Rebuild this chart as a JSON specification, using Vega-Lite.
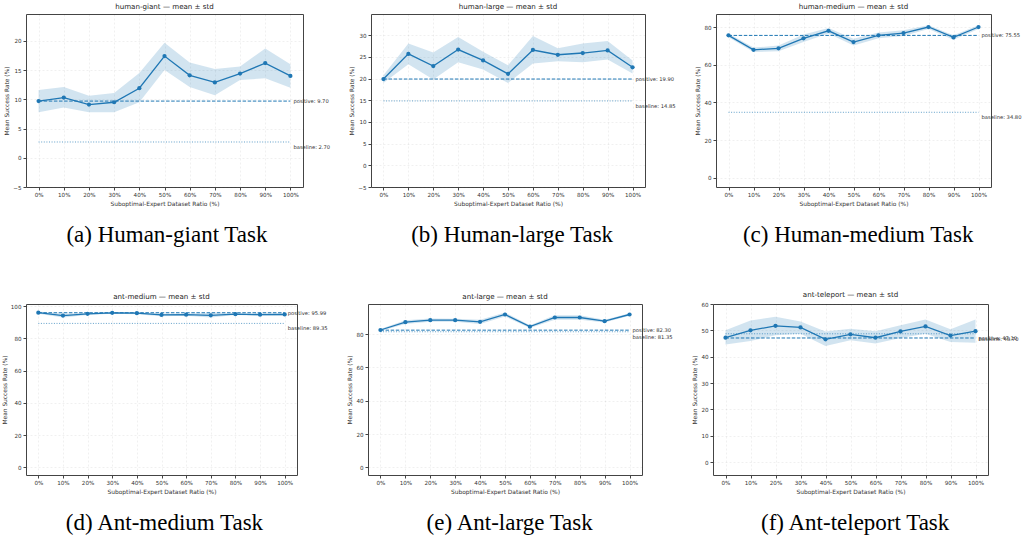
{
  "$schema": "https://vega.github.io/schema/vega-lite/v6.json",
  "padding": {"left": 0, "top": 2, "right": 0, "bottom": 0},
  "background": "white",
  "datasets": {
    "series": [
      {"task": "human-giant", "ratio": 0, "mean": 9.7, "lo": 7.8, "hi": 11.6},
      {"task": "human-giant", "ratio": 10, "mean": 10.3, "lo": 8.6, "hi": 12.1},
      {"task": "human-giant", "ratio": 20, "mean": 9.1, "lo": 7.8, "hi": 10.6},
      {"task": "human-giant", "ratio": 30, "mean": 9.5, "lo": 7.8, "hi": 11.1},
      {"task": "human-giant", "ratio": 40, "mean": 11.9, "lo": 9.5, "hi": 14.5},
      {"task": "human-giant", "ratio": 50, "mean": 17.4, "lo": 15.0, "hi": 19.7},
      {"task": "human-giant", "ratio": 60, "mean": 14.1, "lo": 12.1, "hi": 16.3},
      {"task": "human-giant", "ratio": 70, "mean": 12.9, "lo": 10.7, "hi": 15.2},
      {"task": "human-giant", "ratio": 80, "mean": 14.4, "lo": 13.3, "hi": 15.6},
      {"task": "human-giant", "ratio": 90, "mean": 16.2, "lo": 13.6, "hi": 18.7},
      {"task": "human-giant", "ratio": 100, "mean": 14.0, "lo": 12.0, "hi": 16.0},
      {"task": "human-large", "ratio": 0, "mean": 19.9, "lo": 19.0, "hi": 20.8},
      {"task": "human-large", "ratio": 10, "mean": 25.7, "lo": 23.3, "hi": 28.1},
      {"task": "human-large", "ratio": 20, "mean": 22.9, "lo": 19.8, "hi": 26.0},
      {"task": "human-large", "ratio": 30, "mean": 26.7, "lo": 23.8, "hi": 29.6},
      {"task": "human-large", "ratio": 40, "mean": 24.2, "lo": 22.1, "hi": 26.2},
      {"task": "human-large", "ratio": 50, "mean": 21.1, "lo": 19.0, "hi": 23.1},
      {"task": "human-large", "ratio": 60, "mean": 26.6, "lo": 23.5, "hi": 29.8},
      {"task": "human-large", "ratio": 70, "mean": 25.5, "lo": 24.0, "hi": 27.0},
      {"task": "human-large", "ratio": 80, "mean": 25.9, "lo": 23.8, "hi": 28.1},
      {"task": "human-large", "ratio": 90, "mean": 26.5, "lo": 24.4, "hi": 28.7},
      {"task": "human-large", "ratio": 100, "mean": 22.6, "lo": 21.2, "hi": 24.2},
      {"task": "human-medium", "ratio": 0, "mean": 75.6, "lo": 74.6, "hi": 76.6},
      {"task": "human-medium", "ratio": 10, "mean": 67.9, "lo": 66.7, "hi": 69.1},
      {"task": "human-medium", "ratio": 20, "mean": 68.7, "lo": 67.2, "hi": 70.2},
      {"task": "human-medium", "ratio": 30, "mean": 74.0, "lo": 72.0, "hi": 76.0},
      {"task": "human-medium", "ratio": 40, "mean": 78.0, "lo": 76.5, "hi": 79.5},
      {"task": "human-medium", "ratio": 50, "mean": 72.0, "lo": 70.2, "hi": 73.8},
      {"task": "human-medium", "ratio": 60, "mean": 75.6, "lo": 74.1, "hi": 77.1},
      {"task": "human-medium", "ratio": 70, "mean": 76.8, "lo": 75.3, "hi": 78.3},
      {"task": "human-medium", "ratio": 80, "mean": 80.0, "lo": 79.0, "hi": 81.0},
      {"task": "human-medium", "ratio": 90, "mean": 74.5, "lo": 73.3, "hi": 75.7},
      {"task": "human-medium", "ratio": 100, "mean": 80.0, "lo": 79.0, "hi": 81.0},
      {"task": "ant-medium", "ratio": 0, "mean": 96.0, "lo": 95.3, "hi": 96.7},
      {"task": "ant-medium", "ratio": 10, "mean": 94.2, "lo": 93.0, "hi": 95.4},
      {"task": "ant-medium", "ratio": 20, "mean": 95.3, "lo": 94.6, "hi": 96.0},
      {"task": "ant-medium", "ratio": 30, "mean": 95.9, "lo": 95.3, "hi": 96.5},
      {"task": "ant-medium", "ratio": 40, "mean": 95.7, "lo": 95.0, "hi": 96.4},
      {"task": "ant-medium", "ratio": 50, "mean": 94.6, "lo": 93.8, "hi": 95.4},
      {"task": "ant-medium", "ratio": 60, "mean": 94.8, "lo": 94.1, "hi": 95.5},
      {"task": "ant-medium", "ratio": 70, "mean": 94.4, "lo": 93.0, "hi": 95.8},
      {"task": "ant-medium", "ratio": 80, "mean": 95.1, "lo": 94.5, "hi": 95.7},
      {"task": "ant-medium", "ratio": 90, "mean": 94.8, "lo": 94.1, "hi": 95.5},
      {"task": "ant-medium", "ratio": 100, "mean": 94.9, "lo": 94.2, "hi": 95.6},
      {"task": "ant-large", "ratio": 0, "mean": 82.4, "lo": 81.8, "hi": 83.0},
      {"task": "ant-large", "ratio": 10, "mean": 87.1, "lo": 86.0, "hi": 88.2},
      {"task": "ant-large", "ratio": 20, "mean": 88.3, "lo": 87.3, "hi": 89.3},
      {"task": "ant-large", "ratio": 30, "mean": 88.3, "lo": 87.4, "hi": 89.2},
      {"task": "ant-large", "ratio": 40, "mean": 87.3, "lo": 86.0, "hi": 88.6},
      {"task": "ant-large", "ratio": 50, "mean": 91.7, "lo": 90.5, "hi": 92.9},
      {"task": "ant-large", "ratio": 60, "mean": 84.4, "lo": 83.6, "hi": 85.2},
      {"task": "ant-large", "ratio": 70, "mean": 89.9, "lo": 88.6, "hi": 91.2},
      {"task": "ant-large", "ratio": 80, "mean": 89.9, "lo": 88.5, "hi": 91.3},
      {"task": "ant-large", "ratio": 90, "mean": 87.7, "lo": 86.9, "hi": 88.5},
      {"task": "ant-large", "ratio": 100, "mean": 91.7, "lo": 91.0, "hi": 92.4},
      {"task": "ant-teleport", "ratio": 0, "mean": 47.2, "lo": 44.6, "hi": 50.0},
      {"task": "ant-teleport", "ratio": 10, "mean": 50.0, "lo": 46.0, "hi": 53.7},
      {"task": "ant-teleport", "ratio": 20, "mean": 51.7, "lo": 48.1, "hi": 55.2},
      {"task": "ant-teleport", "ratio": 30, "mean": 51.1, "lo": 48.7, "hi": 53.4},
      {"task": "ant-teleport", "ratio": 40, "mean": 46.6, "lo": 44.1, "hi": 49.6},
      {"task": "ant-teleport", "ratio": 50, "mean": 48.5, "lo": 46.2, "hi": 50.6},
      {"task": "ant-teleport", "ratio": 60, "mean": 47.2, "lo": 45.0, "hi": 49.7},
      {"task": "ant-teleport", "ratio": 70, "mean": 49.6, "lo": 47.1, "hi": 51.9},
      {"task": "ant-teleport", "ratio": 80, "mean": 51.5, "lo": 48.7, "hi": 54.1},
      {"task": "ant-teleport", "ratio": 90, "mean": 48.0, "lo": 45.6, "hi": 50.4},
      {"task": "ant-teleport", "ratio": 100, "mean": 49.7, "lo": 45.3, "hi": 54.1}
    ],
    "refs": [
      {"task": "human-giant", "kind": "positive", "value": 9.70, "label": "positive: 9.70"},
      {"task": "human-giant", "kind": "baseline", "value": 2.70, "label": "baseline: 2.70"},
      {"task": "human-large", "kind": "positive", "value": 19.90, "label": "positive: 19.90"},
      {"task": "human-large", "kind": "baseline", "value": 14.85, "label": "baseline: 14.85"},
      {"task": "human-medium", "kind": "positive", "value": 75.55, "label": "positive: 75.55"},
      {"task": "human-medium", "kind": "baseline", "value": 34.80, "label": "baseline: 34.80"},
      {"task": "ant-medium", "kind": "positive", "value": 95.99, "label": "positive: 95.99"},
      {"task": "ant-medium", "kind": "baseline", "value": 89.35, "label": "baseline: 89.35"},
      {"task": "ant-large", "kind": "positive", "value": 82.30, "label": "positive: 82.30"},
      {"task": "ant-large", "kind": "baseline", "value": 81.35, "label": "baseline: 81.35"},
      {"task": "ant-teleport", "kind": "positive", "value": 47.10, "label": "positive: 47.10"},
      {"task": "ant-teleport", "kind": "baseline", "value": 48.70, "label": "baseline: 48.70"}
    ]
  },
  "spacing": 43,
  "vconcat": [
    {
      "spacing": 17,
      "hconcat": [
        {
          "title": {"text": "(a) Human-giant Task", "orient": "bottom", "anchor": "middle", "font": "Liberation Serif", "fontSize": 23, "color": "#000", "offset": 17},
          "vconcat": [{
            "width": 277, "height": 173,
            "title": "human-giant — mean ± std",
            "layer": [
              {"data": {"name": "series"}, "transform": [{"filter": "datum.task === 'human-giant'"}],
               "mark": {"type": "area", "color": "#1f77b4", "opacity": 0.2},
               "encoding": {
                 "x": {"field": "ratio", "type": "quantitative", "scale": {"domain": [-5, 105], "nice": false, "zero": false}, "axis": {"values": [0,10,20,30,40,50,60,70,80,90,100], "labelExpr": "datum.value + '%'", "title": "Suboptimal-Expert Dataset Ratio (%)"}},
                 "y": {"field": "lo", "type": "quantitative", "scale": {"domain": [-5, 24.6], "nice": false, "zero": false}, "axis": {"values": [-5,0,5,10,15,20], "labelExpr": "replace(datum.label, '-', '−')", "title": "Mean Success Rate (%)"}},
                 "y2": {"field": "hi"}}},
              {"data": {"name": "series"}, "transform": [{"filter": "datum.task === 'human-giant'"}],
               "mark": {"type": "line", "color": "#1f77b4", "strokeWidth": 1.3, "point": {"filled": true, "size": 18, "color": "#1f77b4", "opacity": 1}},
               "encoding": {"x": {"field": "ratio", "type": "quantitative"}, "y": {"field": "mean", "type": "quantitative"}}},
              {"data": {"name": "refs"}, "transform": [{"filter": "datum.task === 'human-giant'"}],
               "mark": {"type": "rule", "color": "#1f77b4", "strokeWidth": 1},
               "encoding": {"x": {"datum": 0}, "x2": {"datum": 100}, "y": {"field": "value", "type": "quantitative"},
                 "strokeDash": {"field": "kind", "type": "nominal", "scale": {"domain": ["positive", "baseline"], "range": [[3.5, 1.6], [1, 1.6]]}, "legend": null},
                 "opacity": {"field": "kind", "type": "nominal", "scale": {"domain": ["positive", "baseline"], "range": [1, 0.7]}, "legend": null}}},
              {"data": {"name": "refs"}, "transform": [{"filter": "datum.task === 'human-giant' && datum.kind === 'positive'"}],
               "mark": {"type": "text", "align": "left", "baseline": "middle", "dx": 3, "fontSize": 5.2, "color": "#333"},
               "encoding": {"x": {"datum": 100}, "y": {"field": "value", "type": "quantitative"}, "text": {"field": "label"}}},
              {"data": {"name": "refs"}, "transform": [{"filter": "datum.task === 'human-giant' && datum.kind === 'baseline'"}],
               "mark": {"type": "text", "align": "left", "baseline": "middle", "dx": 3, "dy": 5, "fontSize": 5.2, "color": "#333"},
               "encoding": {"x": {"datum": 100}, "y": {"field": "value", "type": "quantitative"}, "text": {"field": "label"}}}
            ]
          }]
        },
        {
          "title": {"text": "(b) Human-large Task", "orient": "bottom", "anchor": "middle", "font": "Liberation Serif", "fontSize": 23, "color": "#000", "offset": 17},
          "vconcat": [{
            "width": 274, "height": 173,
            "title": "human-large — mean ± std",
            "layer": [
              {"data": {"name": "series"}, "transform": [{"filter": "datum.task === 'human-large'"}],
               "mark": {"type": "area", "color": "#1f77b4", "opacity": 0.2},
               "encoding": {
                 "x": {"field": "ratio", "type": "quantitative", "scale": {"domain": [-5, 105], "nice": false, "zero": false}, "axis": {"values": [0,10,20,30,40,50,60,70,80,90,100], "labelExpr": "datum.value + '%'", "title": "Suboptimal-Expert Dataset Ratio (%)"}},
                 "y": {"field": "lo", "type": "quantitative", "scale": {"domain": [-5, 34.9], "nice": false, "zero": false}, "axis": {"values": [-5,0,5,10,15,20,25,30], "labelExpr": "replace(datum.label, '-', '−')", "title": "Mean Success Rate (%)"}},
                 "y2": {"field": "hi"}}},
              {"data": {"name": "series"}, "transform": [{"filter": "datum.task === 'human-large'"}],
               "mark": {"type": "line", "color": "#1f77b4", "strokeWidth": 1.3, "point": {"filled": true, "size": 18, "color": "#1f77b4", "opacity": 1}},
               "encoding": {"x": {"field": "ratio", "type": "quantitative"}, "y": {"field": "mean", "type": "quantitative"}}},
              {"data": {"name": "refs"}, "transform": [{"filter": "datum.task === 'human-large'"}],
               "mark": {"type": "rule", "color": "#1f77b4", "strokeWidth": 1},
               "encoding": {"x": {"datum": 0}, "x2": {"datum": 100}, "y": {"field": "value", "type": "quantitative"},
                 "strokeDash": {"field": "kind", "type": "nominal", "scale": {"domain": ["positive", "baseline"], "range": [[3.5, 1.6], [1, 1.6]]}, "legend": null},
                 "opacity": {"field": "kind", "type": "nominal", "scale": {"domain": ["positive", "baseline"], "range": [1, 0.7]}, "legend": null}}},
              {"data": {"name": "refs"}, "transform": [{"filter": "datum.task === 'human-large' && datum.kind === 'positive'"}],
               "mark": {"type": "text", "align": "left", "baseline": "middle", "dx": 3, "fontSize": 5.2, "color": "#333"},
               "encoding": {"x": {"datum": 100}, "y": {"field": "value", "type": "quantitative"}, "text": {"field": "label"}}},
              {"data": {"name": "refs"}, "transform": [{"filter": "datum.task === 'human-large' && datum.kind === 'baseline'"}],
               "mark": {"type": "text", "align": "left", "baseline": "middle", "dx": 3, "dy": 5, "fontSize": 5.2, "color": "#333"},
               "encoding": {"x": {"datum": 100}, "y": {"field": "value", "type": "quantitative"}, "text": {"field": "label"}}}
            ]
          }]
        },
        {
          "title": {"text": "(c) Human-medium Task", "orient": "bottom", "anchor": "middle", "font": "Liberation Serif", "fontSize": 23, "color": "#000", "offset": 17},
          "vconcat": [{
            "width": 275, "height": 173,
            "title": "human-medium — mean ± std",
            "layer": [
              {"data": {"name": "series"}, "transform": [{"filter": "datum.task === 'human-medium'"}],
               "mark": {"type": "area", "color": "#1f77b4", "opacity": 0.2},
               "encoding": {
                 "x": {"field": "ratio", "type": "quantitative", "scale": {"domain": [-5, 105], "nice": false, "zero": false}, "axis": {"values": [0,10,20,30,40,50,60,70,80,90,100], "labelExpr": "datum.value + '%'", "title": "Suboptimal-Expert Dataset Ratio (%)"}},
                 "y": {"field": "lo", "type": "quantitative", "scale": {"domain": [-4.8, 86.9], "nice": false, "zero": false}, "axis": {"values": [0,20,40,60,80], "title": "Mean Success Rate (%)"}},
                 "y2": {"field": "hi"}}},
              {"data": {"name": "series"}, "transform": [{"filter": "datum.task === 'human-medium'"}],
               "mark": {"type": "line", "color": "#1f77b4", "strokeWidth": 1.3, "point": {"filled": true, "size": 18, "color": "#1f77b4", "opacity": 1}},
               "encoding": {"x": {"field": "ratio", "type": "quantitative"}, "y": {"field": "mean", "type": "quantitative"}}},
              {"data": {"name": "refs"}, "transform": [{"filter": "datum.task === 'human-medium'"}],
               "mark": {"type": "rule", "color": "#1f77b4", "strokeWidth": 1},
               "encoding": {"x": {"datum": 0}, "x2": {"datum": 100}, "y": {"field": "value", "type": "quantitative"},
                 "strokeDash": {"field": "kind", "type": "nominal", "scale": {"domain": ["positive", "baseline"], "range": [[3.5, 1.6], [1, 1.6]]}, "legend": null},
                 "opacity": {"field": "kind", "type": "nominal", "scale": {"domain": ["positive", "baseline"], "range": [1, 0.7]}, "legend": null}}},
              {"data": {"name": "refs"}, "transform": [{"filter": "datum.task === 'human-medium' && datum.kind === 'positive'"}],
               "mark": {"type": "text", "align": "left", "baseline": "middle", "dx": 3, "fontSize": 5.2, "color": "#333"},
               "encoding": {"x": {"datum": 100}, "y": {"field": "value", "type": "quantitative"}, "text": {"field": "label"}}},
              {"data": {"name": "refs"}, "transform": [{"filter": "datum.task === 'human-medium' && datum.kind === 'baseline'"}],
               "mark": {"type": "text", "align": "left", "baseline": "middle", "dx": 3, "dy": 5, "fontSize": 5.2, "color": "#333"},
               "encoding": {"x": {"datum": 100}, "y": {"field": "value", "type": "quantitative"}, "text": {"field": "label"}}}
            ]
          }]
        }
      ]
    },
    {
      "spacing": 17,
      "hconcat": [
        {
          "title": {"text": "(d) Ant-medium Task", "orient": "bottom", "anchor": "middle", "font": "Liberation Serif", "fontSize": 23, "color": "#000", "offset": 17},
          "vconcat": [{
            "width": 271, "height": 171,
            "title": "ant-medium — mean ± std",
            "layer": [
              {"data": {"name": "series"}, "transform": [{"filter": "datum.task === 'ant-medium'"}],
               "mark": {"type": "area", "color": "#1f77b4", "opacity": 0.2},
               "encoding": {
                 "x": {"field": "ratio", "type": "quantitative", "scale": {"domain": [-5, 105], "nice": false, "zero": false}, "axis": {"values": [0,10,20,30,40,50,60,70,80,90,100], "labelExpr": "datum.value + '%'", "title": "Suboptimal-Expert Dataset Ratio (%)"}},
                 "y": {"field": "lo", "type": "quantitative", "scale": {"domain": [-4.7, 101.4], "nice": false, "zero": false}, "axis": {"values": [0,20,40,60,80,100], "title": "Mean Success Rate (%)"}},
                 "y2": {"field": "hi"}}},
              {"data": {"name": "series"}, "transform": [{"filter": "datum.task === 'ant-medium'"}],
               "mark": {"type": "line", "color": "#1f77b4", "strokeWidth": 1.3, "point": {"filled": true, "size": 18, "color": "#1f77b4", "opacity": 1}},
               "encoding": {"x": {"field": "ratio", "type": "quantitative"}, "y": {"field": "mean", "type": "quantitative"}}},
              {"data": {"name": "refs"}, "transform": [{"filter": "datum.task === 'ant-medium'"}],
               "mark": {"type": "rule", "color": "#1f77b4", "strokeWidth": 1},
               "encoding": {"x": {"datum": 0}, "x2": {"datum": 100}, "y": {"field": "value", "type": "quantitative"},
                 "strokeDash": {"field": "kind", "type": "nominal", "scale": {"domain": ["positive", "baseline"], "range": [[3.5, 1.6], [1, 1.6]]}, "legend": null},
                 "opacity": {"field": "kind", "type": "nominal", "scale": {"domain": ["positive", "baseline"], "range": [1, 0.7]}, "legend": null}}},
              {"data": {"name": "refs"}, "transform": [{"filter": "datum.task === 'ant-medium' && datum.kind === 'positive'"}],
               "mark": {"type": "text", "align": "left", "baseline": "middle", "dx": 3, "fontSize": 5.2, "color": "#333"},
               "encoding": {"x": {"datum": 100}, "y": {"field": "value", "type": "quantitative"}, "text": {"field": "label"}}},
              {"data": {"name": "refs"}, "transform": [{"filter": "datum.task === 'ant-medium' && datum.kind === 'baseline'"}],
               "mark": {"type": "text", "align": "left", "baseline": "middle", "dx": 3, "dy": 5, "fontSize": 5.2, "color": "#333"},
               "encoding": {"x": {"datum": 100}, "y": {"field": "value", "type": "quantitative"}, "text": {"field": "label"}}}
            ]
          }]
        },
        {
          "title": {"text": "(e) Ant-large Task", "orient": "bottom", "anchor": "middle", "font": "Liberation Serif", "fontSize": 23, "color": "#000", "offset": 17},
          "vconcat": [{
            "width": 274, "height": 171,
            "title": "ant-large — mean ± std",
            "layer": [
              {"data": {"name": "series"}, "transform": [{"filter": "datum.task === 'ant-large'"}],
               "mark": {"type": "area", "color": "#1f77b4", "opacity": 0.2},
               "encoding": {
                 "x": {"field": "ratio", "type": "quantitative", "scale": {"domain": [-5, 105], "nice": false, "zero": false}, "axis": {"values": [0,10,20,30,40,50,60,70,80,90,100], "labelExpr": "datum.value + '%'", "title": "Suboptimal-Expert Dataset Ratio (%)"}},
                 "y": {"field": "lo", "type": "quantitative", "scale": {"domain": [-4.6, 98], "nice": false, "zero": false}, "axis": {"values": [0,20,40,60,80], "title": "Mean Success Rate (%)"}},
                 "y2": {"field": "hi"}}},
              {"data": {"name": "series"}, "transform": [{"filter": "datum.task === 'ant-large'"}],
               "mark": {"type": "line", "color": "#1f77b4", "strokeWidth": 1.3, "point": {"filled": true, "size": 18, "color": "#1f77b4", "opacity": 1}},
               "encoding": {"x": {"field": "ratio", "type": "quantitative"}, "y": {"field": "mean", "type": "quantitative"}}},
              {"data": {"name": "refs"}, "transform": [{"filter": "datum.task === 'ant-large'"}],
               "mark": {"type": "rule", "color": "#1f77b4", "strokeWidth": 1},
               "encoding": {"x": {"datum": 0}, "x2": {"datum": 100}, "y": {"field": "value", "type": "quantitative"},
                 "strokeDash": {"field": "kind", "type": "nominal", "scale": {"domain": ["positive", "baseline"], "range": [[3.5, 1.6], [1, 1.6]]}, "legend": null},
                 "opacity": {"field": "kind", "type": "nominal", "scale": {"domain": ["positive", "baseline"], "range": [1, 0.7]}, "legend": null}}},
              {"data": {"name": "refs"}, "transform": [{"filter": "datum.task === 'ant-large' && datum.kind === 'positive'"}],
               "mark": {"type": "text", "align": "left", "baseline": "middle", "dx": 3, "fontSize": 5.2, "color": "#333"},
               "encoding": {"x": {"datum": 100}, "y": {"field": "value", "type": "quantitative"}, "text": {"field": "label"}}},
              {"data": {"name": "refs"}, "transform": [{"filter": "datum.task === 'ant-large' && datum.kind === 'baseline'"}],
               "mark": {"type": "text", "align": "left", "baseline": "middle", "dx": 3, "dy": 5, "fontSize": 5.2, "color": "#333"},
               "encoding": {"x": {"datum": 100}, "y": {"field": "value", "type": "quantitative"}, "text": {"field": "label"}}}
            ]
          }]
        },
        {
          "title": {"text": "(f) Ant-teleport Task", "orient": "bottom", "anchor": "middle", "font": "Liberation Serif", "fontSize": 23, "color": "#000", "offset": 17},
          "vconcat": [{
            "width": 275, "height": 171,
            "title": "ant-teleport — mean ± std",
            "layer": [
              {"data": {"name": "series"}, "transform": [{"filter": "datum.task === 'ant-teleport'"}],
               "mark": {"type": "area", "color": "#1f77b4", "opacity": 0.2},
               "encoding": {
                 "x": {"field": "ratio", "type": "quantitative", "scale": {"domain": [-5, 105], "nice": false, "zero": false}, "axis": {"values": [0,10,20,30,40,50,60,70,80,90,100], "labelExpr": "datum.value + '%'", "title": "Suboptimal-Expert Dataset Ratio (%)"}},
                 "y": {"field": "lo", "type": "quantitative", "scale": {"domain": [-4.9, 60], "nice": false, "zero": false}, "axis": {"values": [0,10,20,30,40,50,60], "title": "Mean Success Rate (%)"}},
                 "y2": {"field": "hi"}}},
              {"data": {"name": "series"}, "transform": [{"filter": "datum.task === 'ant-teleport'"}],
               "mark": {"type": "line", "color": "#1f77b4", "strokeWidth": 1.3, "point": {"filled": true, "size": 18, "color": "#1f77b4", "opacity": 1}},
               "encoding": {"x": {"field": "ratio", "type": "quantitative"}, "y": {"field": "mean", "type": "quantitative"}}},
              {"data": {"name": "refs"}, "transform": [{"filter": "datum.task === 'ant-teleport'"}],
               "mark": {"type": "rule", "color": "#1f77b4", "strokeWidth": 1},
               "encoding": {"x": {"datum": 0}, "x2": {"datum": 100}, "y": {"field": "value", "type": "quantitative"},
                 "strokeDash": {"field": "kind", "type": "nominal", "scale": {"domain": ["positive", "baseline"], "range": [[3.5, 1.6], [1, 1.6]]}, "legend": null},
                 "opacity": {"field": "kind", "type": "nominal", "scale": {"domain": ["positive", "baseline"], "range": [1, 0.7]}, "legend": null}}},
              {"data": {"name": "refs"}, "transform": [{"filter": "datum.task === 'ant-teleport' && datum.kind === 'positive'"}],
               "mark": {"type": "text", "align": "left", "baseline": "middle", "dx": 3, "fontSize": 5.2, "color": "#333"},
               "encoding": {"x": {"datum": 100}, "y": {"field": "value", "type": "quantitative"}, "text": {"field": "label"}}},
              {"data": {"name": "refs"}, "transform": [{"filter": "datum.task === 'ant-teleport' && datum.kind === 'baseline'"}],
               "mark": {"type": "text", "align": "left", "baseline": "middle", "dx": 3, "dy": 5, "fontSize": 5.2, "color": "#333"},
               "encoding": {"x": {"datum": 100}, "y": {"field": "value", "type": "quantitative"}, "text": {"field": "label"}}}
            ]
          }]
        }
      ]
    }
  ],
  "config": {
    "font": "DejaVu Sans",
    "view": {"stroke": "#444444", "strokeWidth": 1},
    "title": {"fontSize": 7.1, "fontWeight": "normal", "color": "#222", "offset": 4, "font": "DejaVu Sans"},
    "axis": {"labelFontSize": 5.6, "titleFontSize": 5.9, "labelColor": "#333", "titleColor": "#333", "titleFontWeight": "normal",
      "gridColor": "#000000", "gridOpacity": 0.1, "gridDash": [2, 2], "gridWidth": 0.6, "domain": false, "tickColor": "#444", "tickSize": 3,
      "tickCount": 30, "labelPadding": 2, "titlePadding": 3, "labelOverlap": false, "labelFlush": false, "labelFont": "DejaVu Sans", "titleFont": "DejaVu Sans"}
  }
}
